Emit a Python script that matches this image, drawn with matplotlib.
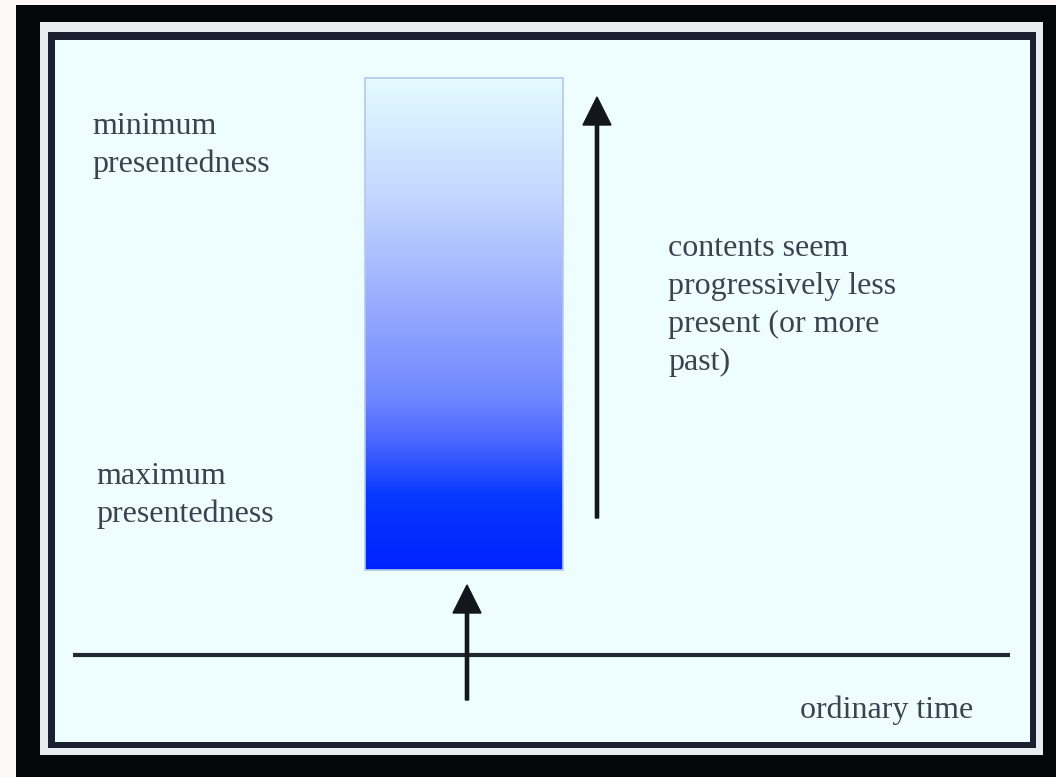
import matplotlib
matplotlib.use("Agg")
import matplotlib.pyplot as plt
import numpy as np
from matplotlib.patches import Rectangle
from matplotlib.colors import LinearSegmentedColormap

# ---- content ----
label_min = "minimum\npresentedness"
label_max = "maximum\npresentedness"
label_right = "contents seem\nprogressively less\npresent (or more\npast)"
label_time = "ordinary time"

# gradient of the presentedness bar (top -> bottom)
grad_pos = [0.0, 0.25, 0.47, 0.65, 0.74, 0.85, 1.0]
grad_colors = ["#e4fcff", "#c2d5ff", "#96a9ff", "#6f87ff", "#4a66ff", "#0838ff", "#0022ff"]

W, H = 1056, 777
fig = plt.figure(figsize=(W / 100, H / 100), dpi=100, facecolor="#fcf8f5")
ax = fig.add_axes([0, 0, 1, 1])
ax.set_xlim(0, W)
ax.set_ylim(H, 0)
ax.axis("off")

# frames
ax.add_patch(Rectangle((16, 5), W - 16, H - 5, facecolor="#050608", edgecolor="none", zorder=0))
ax.add_patch(Rectangle((40, 22), 1043 - 40, 755 - 22, facecolor="#e6ecef", edgecolor="none", zorder=1))
ax.add_patch(Rectangle((48, 32), 1036 - 48, 748 - 32, facecolor="#1a2030", edgecolor="none", zorder=2))
ax.add_patch(Rectangle((55, 40), 1030 - 55, 742 - 40, facecolor="#eefeff", edgecolor="none", zorder=3))

# gradient bar
cmap = LinearSegmentedColormap.from_list("pres", list(zip(grad_pos, grad_colors)))
grad = np.linspace(0, 1, 256).reshape(-1, 1)
bx0, bx1, by0, by1 = 365, 563, 78, 570
ax.imshow(grad, cmap=cmap, aspect="auto", extent=(bx0, bx1, by1, by0), zorder=4,
          interpolation="bilinear")
ax.add_patch(Rectangle((bx0, by0), bx1 - bx0, by1 - by0, facecolor="none",
                       edgecolor="#b4c8e6", lw=1.2, zorder=5))
ax.set_xlim(0, W)
ax.set_ylim(H, 0)

# horizontal time line
ax.plot([73, 1010], [655, 655], color="#222831", lw=3, solid_capstyle="butt", zorder=5)

# arrows
arrow_kw = dict(width=3.2, head_width=28, head_length=28, length_includes_head=True,
                color="#13171d", zorder=6)
ax.arrow(597, 518, 0, 97 - 518, **arrow_kw)
ax.arrow(467, 700, 0, 585 - 700, **arrow_kw)

# texts (va='baseline' anchors the last line's baseline)
tkw = dict(family=["Liberation Serif", "DejaVu Serif"], fontsize=23, color="#3c4250",
           va="baseline", ha="left", linespacing=1.37, zorder=7)
ax.text(92, 172, label_min, **tkw)
ax.text(96, 522, label_max, **tkw)
ax.text(668, 370, label_right, **{**tkw, "linespacing": 1.40})
ax.text(800, 718, label_time, **tkw)

fig.savefig("out.png", dpi=100, facecolor=fig.get_facecolor())
